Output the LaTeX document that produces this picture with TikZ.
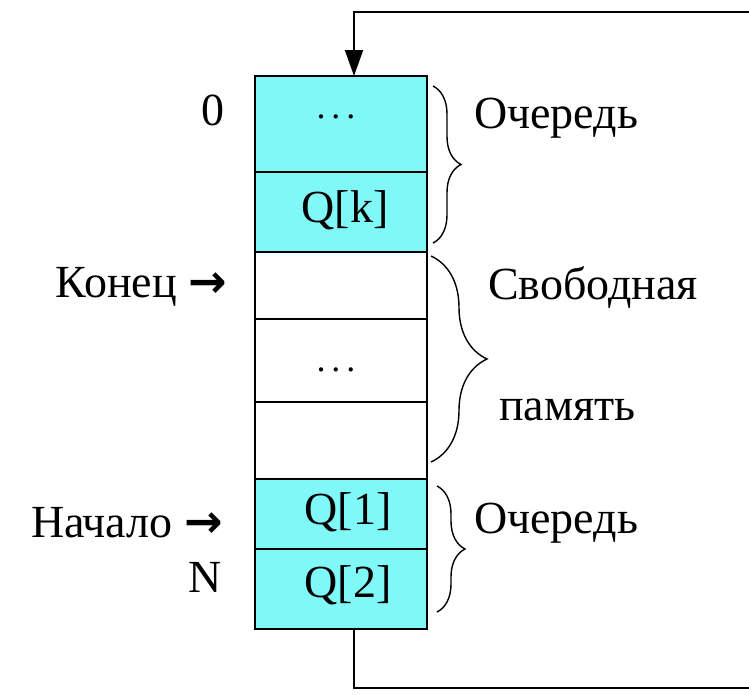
\documentclass[tikz,border=0pt]{standalone}
\usepackage{fontspec}
\setmainfont{Liberation Serif}
\newfontfamily\arrfont{DejaVu Sans}
\usetikzlibrary{arrows.meta,decorations.pathreplacing,calc}
\definecolor{qcyan}{RGB}{128,248,248}
\tikzset{
  cell/.style={draw=black,line width=2pt,minimum width=172pt,inner sep=0pt,outer sep=0pt},
  qcell/.style={cell,fill=qcyan},
  fcell/.style={cell,fill=white},
  lbl/.style={inner sep=0pt,font=\fontsize{46}{50}\selectfont},
  brc/.style={decorate,line width=1.4pt,decoration={brace,amplitude=#1}},
  conn/.style={line width=2pt}
}
\newcommand{\rarr}{{\arrfont\bfseries →}}
\begin{document}
\begin{tikzpicture}[x=1pt,y=-1pt]
\useasboundingbox[fill=white] (0,0) rectangle (749,694);
% cells
\node[qcell,minimum height=96pt] (c1) at (341,124) {};
\node[qcell,minimum height=80pt] (c2) at (341,212) {};
\node[fcell,minimum height=67pt] (c3) at (341,285.5) {};
\node[fcell,minimum height=83pt] (c4) at (341,360.5) {};
\node[fcell,minimum height=77pt] (c5) at (341,440.5) {};
\node[qcell,minimum height=70pt] (c6) at (341,514) {};
\node[qcell,minimum height=80pt] (c7) at (341,589) {};
% cell texts
\node[lbl,font=\fontsize{36}{40}\selectfont] (t1) at (336,117) {.\,.\,.};
\node[lbl] (t2) at (345,210) {Q[k]};
\node[lbl,font=\fontsize{36}{40}\selectfont] (t4) at (336,370) {.\,.\,.};
\node[lbl] (t6) at (348,512) {Q[1]};
\node[lbl] (t7) at (348,585) {Q[2]};
% left labels
\node[lbl] (zero) at (213,110) {0};
\node[lbl,anchor=east] (konec) at (227,287) {Конец \rarr};
\node[lbl,anchor=east] (nachalo) at (223,523) {Начало \rarr};
\node[lbl] (enn) at (205,577) {N};
% braces
\draw[brc=28pt] (433,86) -- (433,243);
\draw[brc=56pt] (431,256) -- (431,462);
\draw[brc=28pt] (437,486) -- (437,612);
% right labels
\node[lbl,anchor=west] (och1) at (474,118) {Очередь};
\node[lbl,anchor=west] (svob) at (488,287) {Свободная};
\node[lbl,anchor=west] (pam) at (499,410) {память};
\node[lbl,anchor=west] (och2) at (474,523) {Очередь};
% connectors
\coordinate (tr) at (749,12);
\coordinate (br) at (749,688);
\coordinate (inp) at ([xshift=99pt]c1.north west);
\coordinate (outp) at ([xshift=99pt]c7.south west);
\draw[conn,-{Triangle[length=26pt,width=18pt]}] (tr) -| (inp);
\draw[conn] (outp) |- (br);
\end{tikzpicture}
\end{document}
